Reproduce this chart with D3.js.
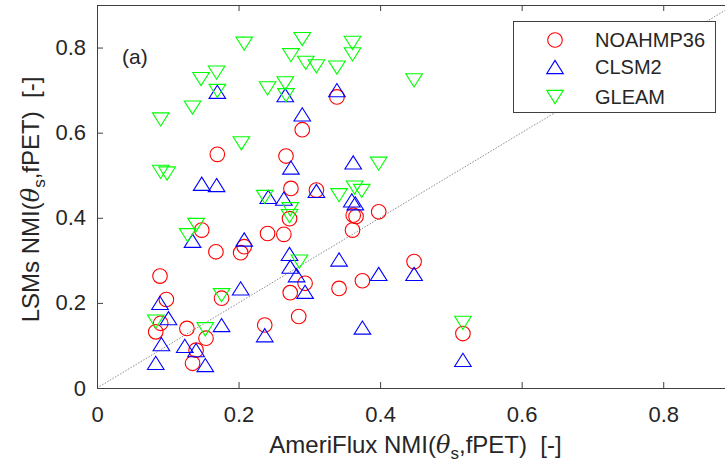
<!DOCTYPE html>
<html>
<head>
<meta charset="utf-8">
<script src="https://cdn.jsdelivr.net/npm/d3@7"></script>
<style>
  html, body { margin: 0; padding: 0; background: #fff; }
  svg text { font-family: "Liberation Sans", Arial, Helvetica, sans-serif; fill: #262626; }
</style>
</head>
<body>
<div id="chart"></div>
<script>
// NMI values
const noahX = [0.170, 0.267, 0.290, 0.339, 0.274, 0.310, 0.272, 0.362, 0.366, 0.398, 0.361, 0.241, 0.264, 0.448,
  0.148, 0.168, 0.203, 0.208, 0.089, 0.098, 0.090, 0.083, 0.127, 0.140, 0.135, 0.154, 0.176, 0.237, 0.273, 0.294,
  0.285, 0.342, 0.375, 0.517];
const noahY = [0.549, 0.545, 0.607, 0.684, 0.469, 0.465, 0.398, 0.406, 0.403, 0.414, 0.371, 0.363, 0.361, 0.297,
  0.371, 0.320, 0.318, 0.332, 0.263, 0.208, 0.152, 0.132, 0.140, 0.089, 0.058, 0.117, 0.211, 0.148, 0.224, 0.246,
  0.168, 0.234, 0.252, 0.128];

const clsmX = [0.170, 0.339, 0.266, 0.290, 0.362, 0.274, 0.242, 0.264, 0.310, 0.360, 0.365, 0.272, 0.273, 0.342,
  0.398, 0.448, 0.282, 0.294, 0.375, 0.517, 0.237, 0.203, 0.176, 0.089, 0.101, 0.091, 0.083, 0.124, 0.140, 0.153,
  0.148, 0.169, 0.135, 0.208];
const clsmY = [0.696, 0.700, 0.688, 0.643, 0.530, 0.518, 0.449, 0.445, 0.463, 0.441, 0.434, 0.315, 0.285, 0.302,
  0.268, 0.268, 0.265, 0.226, 0.142, 0.066, 0.124, 0.234, 0.148, 0.200, 0.164, 0.103, 0.059, 0.099, 0.089, 0.054,
  0.480, 0.477, 0.346, 0.349];

const gleamX = [0.090, 0.135, 0.147, 0.169, 0.170, 0.208, 0.204, 0.290, 0.274, 0.295, 0.310, 0.339, 0.361, 0.361,
  0.448, 0.241, 0.266, 0.267, 0.398, 0.090, 0.099, 0.140, 0.128, 0.237, 0.342, 0.364, 0.374, 0.273, 0.272, 0.286,
  0.176, 0.083, 0.153, 0.517];
const gleamY = [0.631, 0.659, 0.726, 0.741, 0.698, 0.809, 0.575, 0.820, 0.782, 0.764, 0.756, 0.753, 0.811, 0.784,
  0.723, 0.704, 0.716, 0.688, 0.527, 0.508, 0.504, 0.383, 0.359, 0.449, 0.453, 0.471, 0.463, 0.420, 0.404, 0.297,
  0.218, 0.156, 0.138, 0.153];

const seriesNames = ["NOAHMP36", "CLSM2", "GLEAM"];
const xTicks = [0, 0.2, 0.4, 0.6, 0.8];
const xTickLabels = ["0", "0.2", "0.4", "0.6", "0.8"];
const yTicks = [0, 0.2, 0.4, 0.6, 0.8];
const yTickLabels = ["0", "0.2", "0.4", "0.6", "0.8"];

const W = 725, H = 472;
const margin = { left: 97, top: 5, right: -9, bottom: 84 }; // right edge falls just off the page

const svg = d3.select("#chart")
  .append("svg")
  .attr("width", W)
  .attr("height", H);

const x = d3.scaleLinear().domain([0, 0.9]).range([margin.left, W - margin.right]);
const y = d3.scaleLinear().domain([0, 0.9]).range([H - margin.bottom, margin.top]);

// 1:1 line
svg.append("line")
  .attr("x1", x(0)).attr("y1", y(0))
  .attr("x2", x(0.9)).attr("y2", y(0.9))
  .attr("stroke", "#8c8c8c")
  .attr("stroke-width", 1)
  .attr("stroke-dasharray", "1.5,1.5");

// marker shapes
const circle = (r) => `M${r},0A${r},${r} 0 1,1 ${-r},0A${r},${r} 0 1,1 ${r},0Z`;
const triUp = (w, h) => `M0,${-h}L${w},${h}L${-w},${h}Z`;
const triDown = (w, h) => `M0,${h}L${w},${-h}L${-w},${-h}Z`;
const shapes = [circle(7.3), triUp(8.3, 6.6), triDown(8.3, 6.6)];
const colors = ["#ff0000", "#0000ff", "#00ff00"];

const series = [
  noahX.map((d, i) => [d, noahY[i]]),
  clsmX.map((d, i) => [d, clsmY[i]]),
  gleamX.map((d, i) => [d, gleamY[i]])
];

series.forEach((pts, k) => {
  svg.append("g")
    .selectAll("path")
    .data(pts)
    .enter()
    .append("path")
    .attr("d", shapes[k])
    .attr("transform", (d) => `translate(${x(d[0])},${y(d[1])})`)
    .attr("fill", "none")
    .attr("stroke", colors[k])
    .attr("stroke-width", 1.1);
});

// axes, ticks pointing inwards like MATLAB
const axisColor = "#404040";
const xAxis = svg.append("g")
  .attr("transform", `translate(0,${y(0)})`)
  .call(d3.axisBottom(x).tickValues(xTicks).tickFormat((d, i) => xTickLabels[i])
    .tickSizeInner(-6).tickSizeOuter(0).tickPadding(18));
const xTop = svg.append("g")
  .attr("transform", `translate(0,${y(0.9)})`)
  .call(d3.axisTop(x).tickValues(xTicks).tickFormat("").tickSizeInner(-6).tickSizeOuter(0));
const yAxis = svg.append("g")
  .attr("transform", `translate(${x(0)},0)`)
  .call(d3.axisLeft(y).tickValues(yTicks).tickFormat((d, i) => yTickLabels[i])
    .tickSizeInner(-6).tickSizeOuter(0).tickPadding(11));
const yRight = svg.append("g")
  .attr("transform", `translate(${x(0.9)},0)`)
  .call(d3.axisRight(y).tickValues(yTicks).tickFormat("").tickSizeInner(-6).tickSizeOuter(0));

[xAxis, xTop, yAxis, yRight].forEach((g) => {
  g.select(".domain").attr("stroke", axisColor);
  g.selectAll(".tick line").attr("stroke", axisColor);
  g.selectAll(".tick text").style("font-size", "22px").style("fill", "#262626")
    .style("font-family", "'Liberation Sans', Arial, sans-serif");
});

// axis titles
const xTitle = svg.append("text")
  .attr("x", (x(0) + x(0.9)) / 2)
  .attr("y", 453)
  .attr("text-anchor", "middle")
  .style("font-size", "24px")
  .style("white-space", "pre");
xTitle.append("tspan").text("AmeriFlux NMI(");
xTitle.append("tspan").text("θ").style("font-style", "italic").style("font-family", "'DejaVu Serif', serif");
xTitle.append("tspan").text("s").attr("dy", 6).style("font-size", "17px");
xTitle.append("tspan").text(",fPET)  [-]").attr("dy", -6);

const yTitle = svg.append("text")
  .attr("transform", `translate(39,${(y(0) + y(0.9)) / 2 + 3}) rotate(-90)`)
  .attr("text-anchor", "middle")
  .style("font-size", "24px")
  .style("white-space", "pre");
yTitle.append("tspan").text("LSMs NMI(");
yTitle.append("tspan").text("θ").style("font-style", "italic").style("font-family", "'DejaVu Serif', serif");
yTitle.append("tspan").text("s").attr("dy", 6).style("font-size", "17px");
yTitle.append("tspan").text(",fPET)  [-]").attr("dy", -6);

// panel label
svg.append("text")
  .attr("x", 122).attr("y", 64)
  .style("font-size", "21px")
  .text("(a)");

// legend
const legend = svg.append("g");
legend.append("rect")
  .attr("x", 513.5).attr("y", 21.5)
  .attr("width", 202).attr("height", 91)
  .attr("fill", "#fff")
  .attr("stroke", "#404040");

const legendRows = [40, 67, 97];
seriesNames.forEach((name, k) => {
  legend.append("path")
    .attr("d", shapes[k])
    .attr("transform", `translate(555,${legendRows[k]})`)
    .attr("fill", "none")
    .attr("stroke", colors[k])
    .attr("stroke-width", 1.1);
  legend.append("text")
    .attr("x", 595).attr("y", legendRows[k])
    .attr("dy", "0.36em")
    .style("font-size", "20px")
    .text(name);
});
</script>
</body>
</html>
